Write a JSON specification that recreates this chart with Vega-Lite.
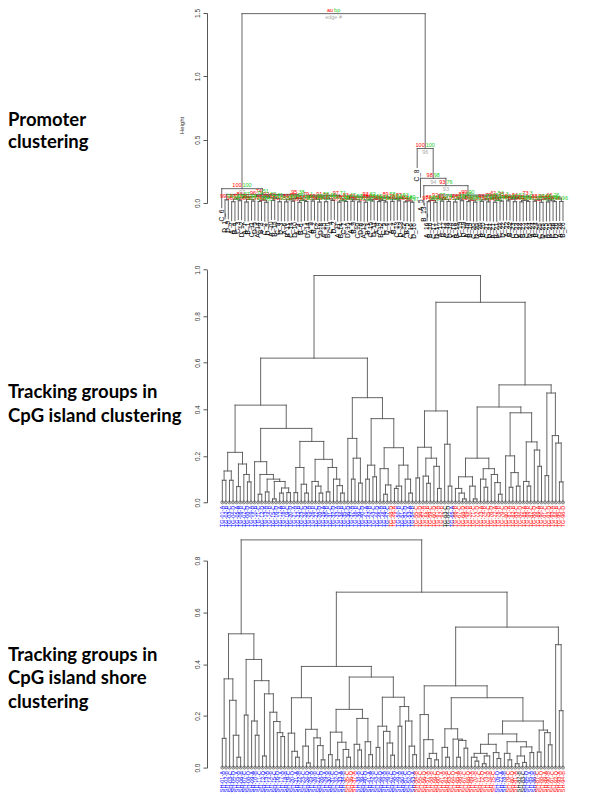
{
"$schema": "https://vega.github.io/schema/vega-lite/v6.json",
"padding": {"left": 8, "top": 8, "right": 5, "bottom": 5},
"bounds": "flush",
"spacing": 57.3,
"config": {
  "view": {"stroke": null},
  "font": "Liberation Sans",
  "axis": {"grid": false, "domainColor": "#444", "domainWidth": 0.9, "tickColor": "#444", "tickWidth": 0.9, "tickSize": 4, "labelColor": "#333", "labelFont": "Liberation Sans", "labelFontSize": 6.5, "labelAngle": 270, "labelAlign": "center", "labelBaseline": "bottom", "labelPadding": 2.5, "labelOverlap": false, "labelFlush": false}
},
"datasets": {
"n1": [
{"xl":4,"xr":5,"h":0.01,"hl":-0.14,"hr":-0.14,"x":4.5,"au":"96","bp":"88"},
{"xl":6,"xr":7,"h":0.018,"hl":-0.132,"hr":-0.132,"x":6.5,"au":"91","bp":"79"},
{"xl":4.5,"xr":6.5,"h":0.03,"hl":0.01,"hr":0.018,"x":5.5,"au":"87","bp":"65"},
{"xl":8,"xr":9,"h":0.008,"hl":-0.142,"hr":-0.142,"x":8.5,"au":"98","bp":"92"},
{"xl":10,"xr":11,"h":0.015,"hl":-0.135,"hr":-0.135,"x":10.5,"au":"85","bp":"71"},
{"xl":8.5,"xr":10.5,"h":0.028,"hl":0.008,"hr":0.015,"x":9.5,"au":"90","bp":"58"},
{"xl":12,"xr":13,"h":0.012,"hl":-0.138,"hr":-0.138,"x":12.5,"au":"97","bp":"89"},
{"xl":14,"xr":15,"h":0.006,"hl":-0.144,"hr":-0.144,"x":14.5,"au":"94","bp":"83"},
{"xl":12.5,"xr":14.5,"h":0.022,"hl":0.012,"hr":0.006,"x":13.5,"au":"88","bp":"62"},
{"xl":16,"xr":17,"h":0.02,"hl":-0.13,"hr":-0.13,"x":16.5,"au":"79","bp":"64"},
{"xl":18,"xr":19,"h":0.01,"hl":-0.14,"hr":-0.14,"x":18.5,"au":"99","bp":"95"},
{"xl":16.5,"xr":18.5,"h":0.035,"hl":0.02,"hr":0.01,"x":17.5,"au":"72","bp":"41"},
{"xl":20,"xr":21,"h":0.009,"hl":-0.141,"hr":-0.141,"x":20.5,"au":"93","bp":"86"},
{"xl":22,"xr":23,"h":0.014,"hl":-0.136,"hr":-0.136,"x":22.5,"au":"89","bp":"77"},
{"xl":20.5,"xr":22.5,"h":0.025,"hl":0.009,"hr":0.014,"x":21.5,"au":"84","bp":"60"},
{"xl":24,"xr":25,"h":0.005,"hl":-0.145,"hr":-0.145,"x":24.5,"au":"99","bp":"97"},
{"xl":26,"xr":27,"h":0.012,"hl":-0.138,"hr":-0.138,"x":26.5,"au":"95","bp":"85"},
{"xl":24.5,"xr":26.5,"h":0.02,"hl":0.005,"hr":0.012,"x":25.5,"au":"91","bp":"70"},
{"xl":28,"xr":29,"h":0.015,"hl":-0.135,"hr":-0.135,"x":28.5,"au":"86","bp":"72"},
{"xl":30,"xr":31,"h":0.008,"hl":-0.142,"hr":-0.142,"x":30.5,"au":"98","bp":"90"},
{"xl":28.5,"xr":30.5,"h":0.03,"hl":0.015,"hr":0.008,"x":29.5,"au":"80","bp":"55"},
{"xl":32,"xr":33,"h":0.01,"hl":-0.14,"hr":-0.14,"x":32.5,"au":"94","bp":"87"},
{"xl":34,"xr":35,"h":0.02,"hl":-0.13,"hr":-0.13,"x":34.5,"au":"83","bp":"66"},
{"xl":32.5,"xr":34.5,"h":0.032,"hl":0.01,"hr":0.02,"x":33.5,"au":"77","bp":"49"},
{"xl":36,"xr":37,"h":0.007,"hl":-0.143,"hr":-0.143,"x":36.5,"au":"97","bp":"93"},
{"xl":38,"xr":39,"h":0.012,"hl":-0.138,"hr":-0.138,"x":38.5,"au":"92","bp":"81"},
{"xl":36.5,"xr":38.5,"h":0.018,"hl":0.007,"hr":0.012,"x":37.5,"au":"89","bp":"68"},
{"xl":40,"xr":41,"h":0.014,"hl":-0.136,"hr":-0.136,"x":40.5,"au":"88","bp":"75"},
{"xl":42,"xr":43,"h":0.009,"hl":-0.141,"hr":-0.141,"x":42.5,"au":"96","bp":"91"},
{"xl":40.5,"xr":42.5,"h":0.026,"hl":0.014,"hr":0.009,"x":41.5,"au":"82","bp":"57"},
{"xl":44,"xr":45,"h":0.006,"hl":-0.144,"hr":-0.144,"x":44.5,"au":"99","bp":"96"},
{"xl":46,"xr":47,"h":0.016,"hl":-0.134,"hr":-0.134,"x":46.5,"au":"87","bp":"73"},
{"xl":44.5,"xr":46.5,"h":0.024,"hl":0.006,"hr":0.016,"x":45.5,"au":"85","bp":"62"},
{"xl":48,"xr":49,"h":0.011,"hl":-0.139,"hr":-0.139,"x":48.5,"au":"93","bp":"84"},
{"xl":50,"xr":51,"h":0.008,"hl":-0.142,"hr":-0.142,"x":50.5,"au":"97","bp":"92"},
{"xl":48.5,"xr":50.5,"h":0.02,"hl":0.011,"hr":0.008,"x":49.5,"au":"90","bp":"71"},
{"xl":52,"xr":53,"h":0.013,"hl":-0.137,"hr":-0.137,"x":52.5,"au":"84","bp":"69"},
{"xl":54,"xr":55,"h":0.017,"hl":-0.133,"hr":-0.133,"x":54.5,"au":"81","bp":"63"},
{"xl":52.5,"xr":54.5,"h":0.03,"hl":0.013,"hr":0.017,"x":53.5,"au":"78","bp":"52"},
{"xl":56,"xr":57,"h":0.009,"hl":-0.141,"hr":-0.141,"x":56.5,"au":"95","bp":"88"},
{"xl":58,"xr":59,"h":0.006,"hl":-0.144,"hr":-0.144,"x":58.5,"au":"99","bp":"97"},
{"xl":56.5,"xr":58.5,"h":0.016,"hl":0.009,"hr":0.006,"x":57.5,"au":"92","bp":"80"},
{"xl":5.5,"xr":9.5,"h":0.042,"hl":0.03,"hr":0.028,"x":7.5,"au":"88","bp":"57"},
{"xl":13.5,"xr":17.5,"h":0.045,"hl":0.022,"hr":0.035,"x":15.5,"au":"92","bp":"62"},
{"xl":21.5,"xr":25.5,"h":0.035,"hl":0.025,"hr":0.02,"x":23.5,"au":"86","bp":"44"},
{"xl":29.5,"xr":33.5,"h":0.04,"hl":0.03,"hr":0.032,"x":31.5,"au":"91","bp":"56"},
{"xl":37.5,"xr":41.5,"h":0.033,"hl":0.018,"hr":0.026,"x":39.5,"au":"83","bp":"47"},
{"xl":45.5,"xr":49.5,"h":0.03,"hl":0.024,"hr":0.02,"x":47.5,"au":"94","bp":"69"},
{"xl":53.5,"xr":57.5,"h":0.036,"hl":0.03,"hr":0.016,"x":55.5,"au":"87","bp":"53"},
{"xl":7.5,"xr":15.5,"h":0.052,"hl":0.042,"hr":0.045,"x":11.5,"au":"96","bp":"74"},
{"xl":23.5,"xr":31.5,"h":0.047,"hl":0.035,"hr":0.04,"x":27.5,"au":"79","bp":"1"},
{"xl":47.5,"xr":55.5,"h":0.04,"hl":0.03,"hr":0.036,"x":51.5,"au":"89","bp":"58"},
{"xl":39.5,"xr":51.5,"h":0.046,"hl":0.033,"hr":0.04,"x":45.5,"au":"93","bp":"62"},
{"xl":27.5,"xr":45.5,"h":0.055,"hl":0.047,"hr":0.046,"x":36.5,"au":"97","bp":"71"},
{"xl":11.5,"xr":36.5,"h":0.062,"hl":0.052,"hr":0.055,"x":24,"au":"95","bp":"38"},
{"xl":2,"xr":3,"h":0.025,"hl":-0.125,"hr":-0.125,"x":2.5,"au":"99","bp":"94"},
{"xl":2.5,"xr":24,"h":0.068,"hl":0.025,"hr":0.062,"x":13.25,"au":"74","bp":"51"},
{"xl":1,"xr":13.25,"h":0.113,"hl":-0.037,"hr":0.068,"x":7.125,"au":"100","bp":"100","e":"97"},
{"xl":63,"xr":64,"h":0.01,"hl":-0.14,"hr":-0.14,"x":63.5,"au":"97","bp":"90"},
{"xl":65,"xr":66,"h":0.006,"hl":-0.144,"hr":-0.144,"x":65.5,"au":"93","bp":"84"},
{"xl":63.5,"xr":65.5,"h":0.02,"hl":0.01,"hr":0.006,"x":64.5,"au":"88","bp":"63"},
{"xl":67,"xr":68,"h":0.015,"hl":-0.135,"hr":-0.135,"x":67.5,"au":"99","bp":"96"},
{"xl":69,"xr":70,"h":0.012,"hl":-0.138,"hr":-0.138,"x":69.5,"au":"86","bp":"71"},
{"xl":67.5,"xr":69.5,"h":0.028,"hl":0.015,"hr":0.012,"x":68.5,"au":"91","bp":"74"},
{"xl":71,"xr":72,"h":0.008,"hl":-0.142,"hr":-0.142,"x":71.5,"au":"95","bp":"87"},
{"xl":73,"xr":74,"h":0.018,"hl":-0.132,"hr":-0.132,"x":73.5,"au":"98","bp":"93"},
{"xl":71.5,"xr":73.5,"h":0.03,"hl":0.008,"hr":0.018,"x":72.5,"au":"84","bp":"58"},
{"xl":75,"xr":76,"h":0.011,"hl":-0.139,"hr":-0.139,"x":75.5,"au":"92","bp":"80"},
{"xl":77,"xr":78,"h":0.007,"hl":-0.143,"hr":-0.143,"x":77.5,"au":"96","bp":"89"},
{"xl":75.5,"xr":77.5,"h":0.022,"hl":0.011,"hr":0.007,"x":76.5,"au":"87","bp":"66"},
{"xl":79,"xr":80,"h":0.013,"hl":-0.137,"hr":-0.137,"x":79.5,"au":"89","bp":"76"},
{"xl":81,"xr":82,"h":0.009,"hl":-0.141,"hr":-0.141,"x":81.5,"au":"99","bp":"98"},
{"xl":79.5,"xr":81.5,"h":0.025,"hl":0.013,"hr":0.009,"x":80.5,"au":"93","bp":"72"},
{"xl":83,"xr":84,"h":0.006,"hl":-0.144,"hr":-0.144,"x":83.5,"au":"94","bp":"85"},
{"xl":85,"xr":86,"h":0.015,"hl":-0.135,"hr":-0.135,"x":85.5,"au":"90","bp":"78"},
{"xl":83.5,"xr":85.5,"h":0.021,"hl":0.006,"hr":0.015,"x":84.5,"au":"81","bp":"54"},
{"xl":87,"xr":88,"h":0.017,"hl":-0.133,"hr":-0.133,"x":87.5,"au":"98","bp":"91"},
{"xl":89,"xr":90,"h":0.01,"hl":-0.14,"hr":-0.14,"x":89.5,"au":"87","bp":"74"},
{"xl":87.5,"xr":89.5,"h":0.03,"hl":0.017,"hr":0.01,"x":88.5,"au":"92","bp":"67"},
{"xl":91,"xr":92,"h":0.009,"hl":-0.141,"hr":-0.141,"x":91.5,"au":"96","bp":"88"},
{"xl":93,"xr":94,"h":0.012,"hl":-0.138,"hr":-0.138,"x":93.5,"au":"93","bp":"81"},
{"xl":91.5,"xr":93.5,"h":0.02,"hl":0.009,"hr":0.012,"x":92.5,"au":"85","bp":"61"},
{"xl":95,"xr":96,"h":0.014,"hl":-0.136,"hr":-0.136,"x":95.5,"au":"99","bp":"95"},
{"xl":97,"xr":98,"h":0.006,"hl":-0.144,"hr":-0.144,"x":97.5,"au":"91","bp":"79"},
{"xl":95.5,"xr":97.5,"h":0.024,"hl":0.014,"hr":0.006,"x":96.5,"au":"88","bp":"65"},
{"xl":99,"xr":100,"h":0.008,"hl":-0.142,"hr":-0.142,"x":99.5,"au":"97","bp":"92"},
{"xl":101,"xr":102,"h":0.011,"hl":-0.139,"hr":-0.139,"x":101.5,"au":"94","bp":"86"},
{"xl":99.5,"xr":101.5,"h":0.018,"hl":0.008,"hr":0.011,"x":100.5,"au":"90","bp":"70"},
{"xl":103,"xr":104,"h":0.012,"hl":-0.138,"hr":-0.138,"x":103.5,"au":"98","bp":"96"},
{"xl":64.5,"xr":68.5,"h":0.038,"hl":0.02,"hr":0.028,"x":66.5,"au":"92","bp":"77"},
{"xl":72.5,"xr":76.5,"h":0.04,"hl":0.03,"hr":0.022,"x":74.5,"au":"87","bp":"60"},
{"xl":80.5,"xr":84.5,"h":0.034,"hl":0.025,"hr":0.021,"x":82.5,"au":"79","bp":"45"},
{"xl":88.5,"xr":92.5,"h":0.036,"hl":0.03,"hr":0.02,"x":90.5,"au":"84","bp":"52"},
{"xl":96.5,"xr":100.5,"h":0.03,"hl":0.024,"hr":0.018,"x":98.5,"au":"90","bp":"68"},
{"xl":98.5,"xr":103.5,"h":0.038,"hl":0.03,"hr":0.012,"x":101,"au":"66","bp":"26"},
{"xl":82.5,"xr":90.5,"h":0.043,"hl":0.034,"hr":0.036,"x":86.5,"au":"45","bp":"3"},
{"xl":86.5,"xr":101,"h":0.048,"hl":0.043,"hr":0.038,"x":93.75,"au":"73","bp":"3"},
{"xl":74.5,"xr":93.75,"h":0.055,"hl":0.04,"hr":0.048,"x":84.125,"au":"61","bp":"54"},
{"xl":66.5,"xr":84.125,"h":0.063,"hl":0.038,"hr":0.055,"x":75.313,"au":"99","bp":"90"},
{"xl":62,"xr":75.313,"h":0.137,"hl":-0.013,"hr":0.063,"x":68.656,"au":"93","bp":"76","e":"93"},
{"xl":61,"xr":68.656,"h":0.195,"hl":0.045,"hr":0.137,"x":64.828,"au":"98","bp":"98","e":"94"},
{"xl":60,"xr":64.828,"h":0.43,"hl":0.28,"hr":0.195,"x":62.414,"au":"100","bp":"100","e":"96"},
{"xl":7.125,"xr":62.414,"h":1.495,"hl":0.113,"hr":0.43,"x":34.77,"au":"au","bp":"bp","e":"edge #"}
],
"l1": [
{"i":1,"lab":"C_6","b":-0.037},{"i":2,"lab":"D_1","b":-0.125},{"i":3,"lab":"D_9","b":-0.125},{"i":4,"lab":"A_2","b":-0.14},{"i":5,"lab":"B_4","b":-0.14},{"i":6,"lab":"C_3","b":-0.132},{"i":7,"lab":"D_12","b":-0.132},{"i":8,"lab":"A_7","b":-0.142},{"i":9,"lab":"B_1","b":-0.142},{"i":10,"lab":"C_11","b":-0.135},
{"i":11,"lab":"D_5","b":-0.135},{"i":12,"lab":"A_14","b":-0.138},{"i":13,"lab":"B_8","b":-0.138},{"i":14,"lab":"C_2","b":-0.144},{"i":15,"lab":"D_7","b":-0.144},{"i":16,"lab":"A_10","b":-0.13},{"i":17,"lab":"B_15","b":-0.13},{"i":18,"lab":"C_9","b":-0.14},{"i":19,"lab":"D_3","b":-0.14},{"i":20,"lab":"A_6","b":-0.141},
{"i":21,"lab":"B_11","b":-0.141},{"i":22,"lab":"C_14","b":-0.136},{"i":23,"lab":"D_10","b":-0.136},{"i":24,"lab":"A_3","b":-0.145},{"i":25,"lab":"B_6","b":-0.145},{"i":26,"lab":"C_1","b":-0.138},{"i":27,"lab":"D_14","b":-0.138},{"i":28,"lab":"A_9","b":-0.135},{"i":29,"lab":"B_2","b":-0.135},{"i":30,"lab":"C_12","b":-0.142},
{"i":31,"lab":"D_8","b":-0.142},{"i":32,"lab":"A_15","b":-0.14},{"i":33,"lab":"B_10","b":-0.14},{"i":34,"lab":"C_4","b":-0.13},{"i":35,"lab":"D_2","b":-0.13},{"i":36,"lab":"A_11","b":-0.143},{"i":37,"lab":"B_14","b":-0.143},{"i":38,"lab":"C_7","b":-0.138},{"i":39,"lab":"D_15","b":-0.138},{"i":40,"lab":"A_4","b":-0.136},
{"i":41,"lab":"B_9","b":-0.136},{"i":42,"lab":"C_10","b":-0.141},{"i":43,"lab":"D_6","b":-0.141},{"i":44,"lab":"A_13","b":-0.144},{"i":45,"lab":"B_3","b":-0.144},{"i":46,"lab":"C_15","b":-0.134},{"i":47,"lab":"D_11","b":-0.134},{"i":48,"lab":"A_8","b":-0.139},{"i":49,"lab":"B_12","b":-0.139},{"i":50,"lab":"C_5","b":-0.142},
{"i":51,"lab":"D_4","b":-0.142},{"i":52,"lab":"A_1","b":-0.137},{"i":53,"lab":"B_7","b":-0.137},{"i":54,"lab":"C_13","b":-0.133},{"i":55,"lab":"D_13","b":-0.133},{"i":56,"lab":"A_12","b":-0.141},{"i":57,"lab":"B_5","b":-0.141},{"i":58,"lab":"C_16","b":-0.144},{"i":59,"lab":"D_16","b":-0.144},{"i":60,"lab":"C_8","b":0.28},
{"i":61,"lab":"A_5","b":0.045},{"i":62,"lab":"B_13","b":-0.013},{"i":63,"lab":"A_16","b":-0.14},{"i":64,"lab":"B_16","b":-0.14},{"i":65,"lab":"C_17","b":-0.144},{"i":66,"lab":"D_17","b":-0.144},{"i":67,"lab":"A_17","b":-0.135},{"i":68,"lab":"B_17","b":-0.135},{"i":69,"lab":"C_18","b":-0.138},{"i":70,"lab":"D_18","b":-0.138},
{"i":71,"lab":"A_18","b":-0.142},{"i":72,"lab":"B_18","b":-0.142},{"i":73,"lab":"C_19","b":-0.132},{"i":74,"lab":"D_19","b":-0.132},{"i":75,"lab":"A_19","b":-0.139},{"i":76,"lab":"B_19","b":-0.139},{"i":77,"lab":"C_20","b":-0.143},{"i":78,"lab":"D_20","b":-0.143},{"i":79,"lab":"A_20","b":-0.137},{"i":80,"lab":"B_20","b":-0.137},
{"i":81,"lab":"C_21","b":-0.141},{"i":82,"lab":"D_21","b":-0.141},{"i":83,"lab":"A_21","b":-0.144},{"i":84,"lab":"B_21","b":-0.144},{"i":85,"lab":"C_22","b":-0.135},{"i":86,"lab":"D_22","b":-0.135},{"i":87,"lab":"A_22","b":-0.133},{"i":88,"lab":"B_22","b":-0.133},{"i":89,"lab":"C_23","b":-0.14},{"i":90,"lab":"D_23","b":-0.14},
{"i":91,"lab":"A_23","b":-0.141},{"i":92,"lab":"B_23","b":-0.141},{"i":93,"lab":"C_24","b":-0.138},{"i":94,"lab":"D_24","b":-0.138},{"i":95,"lab":"A_24","b":-0.136},{"i":96,"lab":"B_24","b":-0.136},{"i":97,"lab":"C_25","b":-0.144},{"i":98,"lab":"D_25","b":-0.144},{"i":99,"lab":"A_25","b":-0.142},{"i":100,"lab":"B_25","b":-0.142},
{"i":101,"lab":"C_26","b":-0.139},{"i":102,"lab":"D_26","b":-0.139},{"i":103,"lab":"A_26","b":-0.138},{"i":104,"lab":"B_26","b":-0.138}
],
"n2": [
{"xl":1,"xr":2,"h":0.095,"hl":0,"hr":0},{"xl":3,"xr":4,"h":0.095,"hl":0,"hr":0},{"xl":1.5,"xr":3.5,"h":0.135,"hl":0.095,"hr":0.095},{"xl":5,"xr":6,"h":0.068,"hl":0,"hr":0},{"xl":8,"xr":9,"h":0.088,"hl":0,"hr":0},{"xl":7,"xr":8.5,"h":0.12,"hl":0,"hr":0.088},{"xl":5.5,"xr":7.75,"h":0.165,"hl":0.068,"hr":0.12},{"xl":2.5,"xr":6.625,"h":0.215,"hl":0.135,"hr":0.165},
{"xl":11,"xr":12,"h":0.035,"hl":0,"hr":0},{"xl":13,"xr":14,"h":0.045,"hl":0,"hr":0},{"xl":15,"xr":16,"h":0.015,"hl":0,"hr":0},{"xl":17,"xr":18,"h":0.04,"hl":0,"hr":0},{"xl":19,"xr":20,"h":0.042,"hl":0,"hr":0},{"xl":17.5,"xr":19.5,"h":0.062,"hl":0.04,"hr":0.042},{"xl":15.5,"xr":18.5,"h":0.09,"hl":0.015,"hr":0.062},{"xl":13.5,"xr":17,"h":0.1,"hl":0.045,"hr":0.09},{"xl":11.5,"xr":15.25,"h":0.12,"hl":0.035,"hr":0.1},{"xl":10,"xr":13.375,"h":0.175,"hl":0,"hr":0.12},
{"xl":21,"xr":22,"h":0.042,"hl":0,"hr":0},{"xl":24,"xr":25,"h":0.04,"hl":0,"hr":0},{"xl":23,"xr":24.5,"h":0.078,"hl":0,"hr":0.04},{"xl":21.5,"xr":23.75,"h":0.15,"hl":0.042,"hr":0.078},{"xl":28,"xr":29,"h":0.04,"hl":0,"hr":0},{"xl":27,"xr":28.5,"h":0.07,"hl":0,"hr":0.04},{"xl":26,"xr":27.75,"h":0.09,"hl":0,"hr":0.07},{"xl":30,"xr":31,"h":0.045,"hl":0,"hr":0},{"xl":34,"xr":35,"h":0.04,"hl":0,"hr":0},{"xl":33,"xr":34.5,"h":0.072,"hl":0,"hr":0.04},{"xl":32,"xr":33.75,"h":0.1,"hl":0,"hr":0.072},{"xl":30.5,"xr":32.875,"h":0.15,"hl":0.045,"hr":0.1},{"xl":26.875,"xr":31.688,"h":0.185,"hl":0.09,"hr":0.15},{"xl":22.625,"xr":29.281,"h":0.262,"hl":0.15,"hr":0.185},{"xl":11.688,"xr":25.953,"h":0.318,"hl":0.175,"hr":0.262},{"xl":4.563,"xr":18.82,"h":0.418,"hl":0.215,"hr":0.318},
{"xl":37,"xr":38,"h":0.1,"hl":0,"hr":0},{"xl":39,"xr":40,"h":0.083,"hl":0,"hr":0},{"xl":37.5,"xr":39.5,"h":0.19,"hl":0.1,"hr":0.083},{"xl":36,"xr":38.5,"h":0.275,"hl":0,"hr":0.19},{"xl":41,"xr":42,"h":0.1,"hl":0,"hr":0},{"xl":43,"xr":44,"h":0.11,"hl":0,"hr":0},{"xl":41.5,"xr":43.5,"h":0.16,"hl":0.1,"hr":0.11},{"xl":46,"xr":47,"h":0.035,"hl":0,"hr":0},{"xl":46.5,"xr":48,"h":0.075,"hl":0.035,"hr":0},{"xl":45,"xr":47.25,"h":0.145,"hl":0,"hr":0.075},{"xl":49,"xr":50,"h":0.06,"hl":0,"hr":0},{"xl":49.5,"xr":51,"h":0.07,"hl":0.06,"hr":0},{"xl":53,"xr":54,"h":0.04,"hl":0,"hr":0},{"xl":52,"xr":53.5,"h":0.1,"hl":0,"hr":0.04},{"xl":50.25,"xr":52.75,"h":0.16,"hl":0.07,"hr":0.1},{"xl":46.125,"xr":51.5,"h":0.235,"hl":0.145,"hr":0.16},{"xl":42.5,"xr":48.813,"h":0.36,"hl":0.16,"hr":0.235},{"xl":37.25,"xr":45.656,"h":0.45,"hl":0.275,"hr":0.36},{"xl":11.691,"xr":41.453,"h":0.62,"hl":0.418,"hr":0.45},
{"xl":55,"xr":56,"h":0.105,"hl":0,"hr":0},{"xl":58,"xr":59,"h":0.082,"hl":0,"hr":0},{"xl":57,"xr":58.5,"h":0.113,"hl":0,"hr":0.082},{"xl":61,"xr":62,"h":0.06,"hl":0,"hr":0},{"xl":60,"xr":61.5,"h":0.155,"hl":0,"hr":0.06},{"xl":57.75,"xr":60.75,"h":0.19,"hl":0.113,"hr":0.155},{"xl":55.5,"xr":59.25,"h":0.237,"hl":0.105,"hr":0.19},{"xl":64,"xr":65,"h":0.07,"hl":0,"hr":0},{"xl":63,"xr":64.5,"h":0.25,"hl":0,"hr":0.07},{"xl":57.375,"xr":63.75,"h":0.393,"hl":0.237,"hr":0.25},
{"xl":68,"xr":69,"h":0.015,"hl":0,"hr":0},{"xl":67,"xr":68.5,"h":0.04,"hl":0,"hr":0.015},{"xl":66,"xr":67.75,"h":0.06,"hl":0,"hr":0.04},{"xl":71,"xr":72,"h":0.015,"hl":0,"hr":0},{"xl":70,"xr":71.5,"h":0.07,"hl":0,"hr":0.015},{"xl":66.875,"xr":70.75,"h":0.11,"hl":0.06,"hr":0.07},{"xl":74,"xr":75,"h":0.065,"hl":0,"hr":0},{"xl":73,"xr":74.5,"h":0.1,"hl":0,"hr":0.065},{"xl":78,"xr":79,"h":0.035,"hl":0,"hr":0},{"xl":77,"xr":78.5,"h":0.085,"hl":0,"hr":0.035},{"xl":76,"xr":77.75,"h":0.12,"hl":0,"hr":0.085},{"xl":73.75,"xr":76.875,"h":0.145,"hl":0.1,"hr":0.12},{"xl":68.813,"xr":75.313,"h":0.19,"hl":0.11,"hr":0.145},
{"xl":81,"xr":82,"h":0.065,"hl":0,"hr":0},{"xl":83,"xr":84,"h":0.07,"hl":0,"hr":0},{"xl":81.5,"xr":83.5,"h":0.128,"hl":0.065,"hr":0.07},{"xl":80,"xr":82.5,"h":0.2,"hl":0,"hr":0.128},{"xl":86,"xr":87,"h":0.07,"hl":0,"hr":0},{"xl":85,"xr":86.5,"h":0.09,"hl":0,"hr":0.07},{"xl":89,"xr":90,"h":0.155,"hl":0,"hr":0},{"xl":88,"xr":89.5,"h":0.225,"hl":0,"hr":0.155},{"xl":85.75,"xr":88.75,"h":0.26,"hl":0.09,"hr":0.225},{"xl":81.25,"xr":87.25,"h":0.385,"hl":0.2,"hr":0.26},{"xl":72.063,"xr":84.25,"h":0.41,"hl":0.19,"hr":0.385},
{"xl":91,"xr":92,"h":0.115,"hl":0,"hr":0},{"xl":95,"xr":96,"h":0.088,"hl":0,"hr":0},{"xl":94,"xr":95.5,"h":0.255,"hl":0,"hr":0.088},{"xl":93,"xr":94.75,"h":0.287,"hl":0,"hr":0.255},{"xl":91.5,"xr":93.875,"h":0.47,"hl":0.115,"hr":0.287},{"xl":78.156,"xr":92.688,"h":0.505,"hl":0.41,"hr":0.47},{"xl":60.563,"xr":85.422,"h":0.86,"hl":0.393,"hr":0.505},{"xl":26.572,"xr":72.992,"h":0.975,"hl":0.62,"hr":0.86}
],
"l2": [
{"i":1,"lab":"TG-01-A","g":"b"},{"i":2,"lab":"TG-02-B","g":"b"},{"i":3,"lab":"TG-03-C","g":"b"},{"i":4,"lab":"TG-04-D","g":"b"},{"i":5,"lab":"TG-05-A","g":"b"},{"i":6,"lab":"TG-06-B","g":"b"},{"i":7,"lab":"TG-07-C","g":"b"},{"i":8,"lab":"TG-08-D","g":"b"},{"i":9,"lab":"TG-09-A","g":"b"},{"i":10,"lab":"TG-10-B","g":"b"},
{"i":11,"lab":"TG-11-C","g":"b"},{"i":12,"lab":"TG-12-D","g":"b"},{"i":13,"lab":"TG-13-A","g":"b"},{"i":14,"lab":"TG-14-B","g":"b"},{"i":15,"lab":"TG-15-C","g":"b"},{"i":16,"lab":"TG-16-D","g":"b"},{"i":17,"lab":"TG-17-A","g":"b"},{"i":18,"lab":"TG-18-B","g":"b"},{"i":19,"lab":"TG-19-C","g":"b"},{"i":20,"lab":"TG-20-D","g":"b"},
{"i":21,"lab":"TG-21-A","g":"b"},{"i":22,"lab":"TG-22-B","g":"b"},{"i":23,"lab":"TG-23-C","g":"b"},{"i":24,"lab":"TG-24-D","g":"b"},{"i":25,"lab":"TG-25-A","g":"b"},{"i":26,"lab":"TG-26-B","g":"b"},{"i":27,"lab":"TG-27-C","g":"b"},{"i":28,"lab":"TG-28-D","g":"b"},{"i":29,"lab":"TG-29-A","g":"b"},{"i":30,"lab":"TG-30-B","g":"b"},
{"i":31,"lab":"TG-31-C","g":"b"},{"i":32,"lab":"TG-32-D","g":"b"},{"i":33,"lab":"TG-33-A","g":"b"},{"i":34,"lab":"TG-34-B","g":"b"},{"i":35,"lab":"TG-35-C","g":"b"},{"i":36,"lab":"TG-36-D","g":"b"},{"i":37,"lab":"TG-37-A","g":"b"},{"i":38,"lab":"TG-38-B","g":"b"},{"i":39,"lab":"TG-39-C","g":"b"},{"i":40,"lab":"TG-40-D","g":"b"},
{"i":41,"lab":"TG-41-A","g":"b"},{"i":42,"lab":"TG-42-B","g":"b"},{"i":43,"lab":"TG-43-C","g":"b"},{"i":44,"lab":"TG-44-D","g":"b"},{"i":45,"lab":"TG-45-A","g":"b"},{"i":46,"lab":"TG-46-B","g":"b"},{"i":47,"lab":"TG-47-C","g":"b"},{"i":48,"lab":"TG-48-D","g":"r"},{"i":49,"lab":"TG-49-A","g":"r"},{"i":50,"lab":"TG-50-B","g":"b"},
{"i":51,"lab":"TG-51-C","g":"b"},{"i":52,"lab":"TG-52-D","g":"b"},{"i":53,"lab":"TG-53-A","g":"b"},{"i":54,"lab":"TG-54-B","g":"b"},{"i":55,"lab":"TG-55-C","g":"r"},{"i":56,"lab":"TG-56-D","g":"r"},{"i":57,"lab":"TG-57-A","g":"r"},{"i":58,"lab":"TG-58-B","g":"r"},{"i":59,"lab":"TG-59-C","g":"r"},{"i":60,"lab":"TG-60-D","g":"r"},
{"i":61,"lab":"TG-61-A","g":"r"},{"i":62,"lab":"TG-62-B","g":"r"},{"i":63,"lab":"TG-63-C","g":"k"},{"i":64,"lab":"TG-64-D","g":"k"},{"i":65,"lab":"TG-65-A","g":"b"},{"i":66,"lab":"TG-66-B","g":"r"},{"i":67,"lab":"TG-67-C","g":"r"},{"i":68,"lab":"TG-68-D","g":"r"},{"i":69,"lab":"TG-69-A","g":"r"},{"i":70,"lab":"TG-70-B","g":"r"},
{"i":71,"lab":"TG-71-C","g":"r"},{"i":72,"lab":"TG-72-D","g":"r"},{"i":73,"lab":"TG-73-A","g":"r"},{"i":74,"lab":"TG-74-B","g":"r"},{"i":75,"lab":"TG-75-C","g":"r"},{"i":76,"lab":"TG-76-D","g":"r"},{"i":77,"lab":"TG-77-A","g":"r"},{"i":78,"lab":"TG-78-B","g":"r"},{"i":79,"lab":"TG-79-C","g":"r"},{"i":80,"lab":"TG-80-D","g":"r"},
{"i":81,"lab":"TG-81-A","g":"r"},{"i":82,"lab":"TG-82-B","g":"r"},{"i":83,"lab":"TG-83-C","g":"r"},{"i":84,"lab":"TG-84-D","g":"r"},{"i":85,"lab":"TG-85-A","g":"r"},{"i":86,"lab":"TG-86-B","g":"r"},{"i":87,"lab":"TG-87-C","g":"r"},{"i":88,"lab":"TG-88-D","g":"r"},{"i":89,"lab":"TG-89-A","g":"r"},{"i":90,"lab":"TG-90-B","g":"r"},
{"i":91,"lab":"TG-91-C","g":"r"},{"i":92,"lab":"TG-92-D","g":"r"},{"i":93,"lab":"TG-93-A","g":"r"},{"i":94,"lab":"TG-94-B","g":"r"},{"i":95,"lab":"TG-95-C","g":"r"},{"i":96,"lab":"TG-96-D","g":"r"}
],
"n3": [
{"xl":1,"xr":2,"h":0.113,"hl":0,"hr":0},{"xl":5,"xr":6,"h":0.04,"hl":0,"hr":0},{"xl":4,"xr":5.5,"h":0.125,"hl":0,"hr":0.04},{"xl":3,"xr":4.75,"h":0.26,"hl":0,"hr":0.125},{"xl":1.5,"xr":3.875,"h":0.343,"hl":0.113,"hr":0.26},{"xl":7,"xr":8,"h":0.203,"hl":0,"hr":0},{"xl":10,"xr":11,"h":0.125,"hl":0,"hr":0},{"xl":9,"xr":10.5,"h":0.18,"hl":0,"hr":0.125},{"xl":12,"xr":13,"h":0.045,"hl":0,"hr":0},{"xl":17,"xr":18,"h":0.12,"hl":0,"hr":0},{"xl":16,"xr":17.5,"h":0.135,"hl":0,"hr":0.12},{"xl":15,"xr":16.75,"h":0.178,"hl":0,"hr":0.135},{"xl":14,"xr":15.875,"h":0.214,"hl":0,"hr":0.178},{"xl":12.5,"xr":14.938,"h":0.285,"hl":0.045,"hr":0.214},{"xl":9.75,"xr":13.719,"h":0.336,"hl":0.18,"hr":0.285},{"xl":7.5,"xr":11.734,"h":0.418,"hl":0.203,"hr":0.336},{"xl":2.688,"xr":9.617,"h":0.517,"hl":0.343,"hr":0.418},
{"xl":21,"xr":22,"h":0.04,"hl":0,"hr":0},{"xl":20,"xr":21.5,"h":0.063,"hl":0,"hr":0.04},{"xl":19,"xr":20.75,"h":0.133,"hl":0,"hr":0.063},{"xl":24,"xr":25,"h":0.018,"hl":0,"hr":0},{"xl":23,"xr":24.5,"h":0.083,"hl":0,"hr":0.018},{"xl":28,"xr":29,"h":0.03,"hl":0,"hr":0},{"xl":27,"xr":28.5,"h":0.085,"hl":0,"hr":0.03},{"xl":26,"xr":27.75,"h":0.115,"hl":0,"hr":0.085},{"xl":23.75,"xr":26.875,"h":0.148,"hl":0.083,"hr":0.115},{"xl":19.875,"xr":25.313,"h":0.27,"hl":0.133,"hr":0.148},
{"xl":30,"xr":31,"h":0.05,"hl":0,"hr":0},{"xl":32,"xr":33,"h":0.03,"hl":0,"hr":0},{"xl":35,"xr":36,"h":0.04,"hl":0,"hr":0},{"xl":34,"xr":35.5,"h":0.07,"hl":0,"hr":0.04},{"xl":32.5,"xr":34.75,"h":0.098,"hl":0.03,"hr":0.07},{"xl":30.5,"xr":33.625,"h":0.137,"hl":0.05,"hr":0.098},{"xl":38,"xr":39,"h":0.068,"hl":0,"hr":0},{"xl":37,"xr":38.5,"h":0.09,"hl":0,"hr":0.068},{"xl":41,"xr":42,"h":0.05,"hl":0,"hr":0},{"xl":40,"xr":41.5,"h":0.1,"hl":0,"hr":0.05},{"xl":37.75,"xr":40.75,"h":0.19,"hl":0.09,"hr":0.1},{"xl":32.063,"xr":39.25,"h":0.225,"hl":0.137,"hr":0.19},
{"xl":43,"xr":44,"h":0.078,"hl":0,"hr":0},{"xl":47,"xr":48,"h":0.048,"hl":0,"hr":0},{"xl":46,"xr":47.5,"h":0.095,"hl":0,"hr":0.048},{"xl":45,"xr":46.75,"h":0.14,"hl":0,"hr":0.095},{"xl":43.5,"xr":45.875,"h":0.16,"hl":0.078,"hr":0.14},{"xl":49,"xr":50,"h":0.16,"hl":0,"hr":0},{"xl":53,"xr":54,"h":0.05,"hl":0,"hr":0},{"xl":52,"xr":53.5,"h":0.083,"hl":0,"hr":0.05},{"xl":51,"xr":52.75,"h":0.18,"hl":0,"hr":0.083},{"xl":49.5,"xr":51.875,"h":0.236,"hl":0.16,"hr":0.18},{"xl":44.688,"xr":50.688,"h":0.272,"hl":0.16,"hr":0.236},{"xl":35.656,"xr":47.688,"h":0.35,"hl":0.225,"hr":0.272},{"xl":22.594,"xr":41.672,"h":0.391,"hl":0.27,"hr":0.35},
{"xl":57,"xr":58,"h":0.035,"hl":0,"hr":0},{"xl":59,"xr":60,"h":0.03,"hl":0,"hr":0},{"xl":57.5,"xr":59.5,"h":0.055,"hl":0.035,"hr":0.03},{"xl":56,"xr":58.5,"h":0.108,"hl":0,"hr":0.055},{"xl":55,"xr":57.25,"h":0.205,"hl":0,"hr":0.108},{"xl":62,"xr":63,"h":0.04,"hl":0,"hr":0},{"xl":61,"xr":62.5,"h":0.078,"hl":0,"hr":0.04},{"xl":65,"xr":66,"h":0.04,"hl":0,"hr":0},{"xl":67,"xr":68,"h":0.075,"hl":0,"hr":0},{"xl":65.5,"xr":67.5,"h":0.105,"hl":0.04,"hr":0.075},{"xl":64,"xr":66.5,"h":0.11,"hl":0,"hr":0.105},{"xl":61.75,"xr":65.25,"h":0.15,"hl":0.078,"hr":0.11},
{"xl":70,"xr":71,"h":0.025,"hl":0,"hr":0},{"xl":69,"xr":70.5,"h":0.04,"hl":0,"hr":0.025},{"xl":72,"xr":73,"h":0.015,"hl":0,"hr":0},{"xl":72.5,"xr":74,"h":0.045,"hl":0.015,"hr":0},{"xl":69.75,"xr":73.25,"h":0.055,"hl":0.04,"hr":0.045},{"xl":76,"xr":77,"h":0.035,"hl":0,"hr":0},{"xl":75,"xr":76.5,"h":0.058,"hl":0,"hr":0.035},{"xl":71.5,"xr":75.75,"h":0.09,"hl":0.055,"hr":0.058},
{"xl":79,"xr":80,"h":0.03,"hl":0,"hr":0},{"xl":78,"xr":79.5,"h":0.055,"hl":0,"hr":0.03},{"xl":81,"xr":82,"h":0.015,"hl":0,"hr":0},{"xl":83,"xr":84,"h":0.02,"hl":0,"hr":0},{"xl":81.5,"xr":83.5,"h":0.045,"hl":0.015,"hr":0.02},{"xl":85,"xr":86,"h":0.058,"hl":0,"hr":0},{"xl":82.5,"xr":85.5,"h":0.08,"hl":0.045,"hr":0.058},{"xl":78.75,"xr":84,"h":0.1,"hl":0.055,"hr":0.08},{"xl":73.625,"xr":81.375,"h":0.13,"hl":0.09,"hr":0.1},
{"xl":87,"xr":88,"h":0.06,"hl":0,"hr":0},{"xl":90,"xr":91,"h":0.088,"hl":0,"hr":0},{"xl":89,"xr":90.5,"h":0.135,"hl":0,"hr":0.088},{"xl":87.5,"xr":89.75,"h":0.145,"hl":0.06,"hr":0.135},{"xl":77.5,"xr":88.625,"h":0.18,"hl":0.13,"hr":0.145},{"xl":63.5,"xr":83.063,"h":0.27,"hl":0.15,"hr":0.18},{"xl":56.125,"xr":73.281,"h":0.316,"hl":0.205,"hr":0.27},
{"xl":93,"xr":94,"h":0.22,"hl":0,"hr":0},{"xl":92,"xr":93.5,"h":0.475,"hl":0,"hr":0.22},{"xl":64.703,"xr":92.75,"h":0.543,"hl":0.316,"hr":0.475},{"xl":32.133,"xr":78.727,"h":0.678,"hl":0.391,"hr":0.543},{"xl":6.152,"xr":55.43,"h":0.88,"hl":0.517,"hr":0.678}
],
"l3": [
{"i":1,"lab":"SH-01-A","g":"b"},{"i":2,"lab":"SH-02-B","g":"b"},{"i":3,"lab":"SH-03-C","g":"b"},{"i":4,"lab":"SH-04-D","g":"b"},{"i":5,"lab":"SH-05-A","g":"b"},{"i":6,"lab":"SH-06-B","g":"b"},{"i":7,"lab":"SH-07-C","g":"b"},{"i":8,"lab":"SH-08-D","g":"b"},{"i":9,"lab":"SH-09-A","g":"b"},{"i":10,"lab":"SH-10-B","g":"b"},
{"i":11,"lab":"SH-11-C","g":"b"},{"i":12,"lab":"SH-12-D","g":"b"},{"i":13,"lab":"SH-13-A","g":"b"},{"i":14,"lab":"SH-14-B","g":"b"},{"i":15,"lab":"SH-15-C","g":"b"},{"i":16,"lab":"SH-16-D","g":"b"},{"i":17,"lab":"SH-17-A","g":"b"},{"i":18,"lab":"SH-18-B","g":"b"},{"i":19,"lab":"SH-19-C","g":"b"},{"i":20,"lab":"SH-20-D","g":"b"},
{"i":21,"lab":"SH-21-A","g":"b"},{"i":22,"lab":"SH-22-B","g":"b"},{"i":23,"lab":"SH-23-C","g":"b"},{"i":24,"lab":"SH-24-D","g":"b"},{"i":25,"lab":"SH-25-A","g":"b"},{"i":26,"lab":"SH-26-B","g":"b"},{"i":27,"lab":"SH-27-C","g":"b"},{"i":28,"lab":"SH-28-D","g":"b"},{"i":29,"lab":"SH-29-A","g":"b"},{"i":30,"lab":"SH-30-B","g":"b"},
{"i":31,"lab":"SH-31-C","g":"b"},{"i":32,"lab":"SH-32-D","g":"b"},{"i":33,"lab":"SH-33-A","g":"b"},{"i":34,"lab":"SH-34-B","g":"b"},{"i":35,"lab":"SH-35-C","g":"r"},{"i":36,"lab":"SH-36-D","g":"r"},{"i":37,"lab":"SH-37-A","g":"r"},{"i":38,"lab":"SH-38-B","g":"b"},{"i":39,"lab":"SH-39-C","g":"b"},{"i":40,"lab":"SH-40-D","g":"b"},
{"i":41,"lab":"SH-41-A","g":"b"},{"i":42,"lab":"SH-42-B","g":"b"},{"i":43,"lab":"SH-43-C","g":"b"},{"i":44,"lab":"SH-44-D","g":"b"},{"i":45,"lab":"SH-45-A","g":"b"},{"i":46,"lab":"SH-46-B","g":"b"},{"i":47,"lab":"SH-47-C","g":"b"},{"i":48,"lab":"SH-48-D","g":"b"},{"i":49,"lab":"SH-49-A","g":"b"},{"i":50,"lab":"SH-50-B","g":"b"},
{"i":51,"lab":"SH-51-C","g":"b"},{"i":52,"lab":"SH-52-D","g":"b"},{"i":53,"lab":"SH-53-A","g":"b"},{"i":54,"lab":"SH-54-B","g":"r"},{"i":55,"lab":"SH-55-C","g":"r"},{"i":56,"lab":"SH-56-D","g":"r"},{"i":57,"lab":"SH-57-A","g":"r"},{"i":58,"lab":"SH-58-B","g":"r"},{"i":59,"lab":"SH-59-C","g":"r"},{"i":60,"lab":"SH-60-D","g":"r"},
{"i":61,"lab":"SH-61-A","g":"r"},{"i":62,"lab":"SH-62-B","g":"r"},{"i":63,"lab":"SH-63-C","g":"r"},{"i":64,"lab":"SH-64-D","g":"r"},{"i":65,"lab":"SH-65-A","g":"r"},{"i":66,"lab":"SH-66-B","g":"r"},{"i":67,"lab":"SH-67-C","g":"r"},{"i":68,"lab":"SH-68-D","g":"r"},{"i":69,"lab":"SH-69-A","g":"r"},{"i":70,"lab":"SH-70-B","g":"r"},
{"i":71,"lab":"SH-71-C","g":"r"},{"i":72,"lab":"SH-72-D","g":"r"},{"i":73,"lab":"SH-73-A","g":"r"},{"i":74,"lab":"SH-74-B","g":"r"},{"i":75,"lab":"SH-75-C","g":"r"},{"i":76,"lab":"SH-76-D","g":"b"},{"i":77,"lab":"SH-77-A","g":"b"},{"i":78,"lab":"SH-78-B","g":"b"},{"i":79,"lab":"SH-79-C","g":"r"},{"i":80,"lab":"SH-80-D","g":"r"},
{"i":81,"lab":"SH-81-A","g":"r"},{"i":82,"lab":"SH-82-B","g":"k"},{"i":83,"lab":"SH-83-C","g":"k"},{"i":84,"lab":"SH-84-D","g":"b"},{"i":85,"lab":"SH-85-A","g":"b"},{"i":86,"lab":"SH-86-B","g":"b"},{"i":87,"lab":"SH-87-C","g":"r"},{"i":88,"lab":"SH-88-D","g":"r"},{"i":89,"lab":"SH-89-A","g":"r"},{"i":90,"lab":"SH-90-B","g":"r"},
{"i":91,"lab":"SH-91-C","g":"r"},{"i":92,"lab":"SH-92-D","g":"r"},{"i":93,"lab":"SH-93-A","g":"r"},{"i":94,"lab":"SH-94-B","g":"r"}
]
},
"vconcat": [
{
  "width": 371, "height": 190,
  "title": {"text": ["Promoter", "clustering"], "orient": "top", "anchor": "start", "frame": "group", "align": "left", "baseline": "top", "offset": 0, "dx": -199, "dy": 143, "font": "Lato", "fontSize": 18.5, "fontWeight": "bold", "lineHeight": 22, "color": "#000"},
  "layer": [
    {"data": {"name": "n1"}, "mark": {"type": "rule", "color": "#555", "strokeWidth": 0.9, "strokeCap": "square"},
     "encoding": {
       "x": {"field": "xl", "type": "quantitative", "scale": {"domain": [-3.44, 108.53], "nice": false, "zero": false}, "axis": null},
       "x2": {"field": "xr"},
       "y": {"field": "h", "type": "quantitative", "scale": {"domain": [0, 1.5], "nice": false, "zero": false},
             "axis": {"values": [0, 0.5, 1, 1.5], "format": ".1f", "title": "Height", "titleX": -26, "titleY": 112, "titleAngle": 270, "titleFontSize": 6, "titleFontWeight": "normal", "titleColor": "#333", "titleFont": "Liberation Sans", "titleAlign": "center", "titleBaseline": "middle"}}}},
    {"data": {"name": "n1"}, "mark": {"type": "rule", "color": "#555", "strokeWidth": 0.9, "strokeCap": "square"},
     "encoding": {"x": {"field": "xl", "type": "quantitative"}, "y": {"field": "hl", "type": "quantitative"}, "y2": {"field": "h"}}},
    {"data": {"name": "n1"}, "mark": {"type": "rule", "color": "#555", "strokeWidth": 0.9, "strokeCap": "square"},
     "encoding": {"x": {"field": "xr", "type": "quantitative"}, "y": {"field": "hr", "type": "quantitative"}, "y2": {"field": "h"}}},
    {"data": {"name": "n1"}, "mark": {"type": "text", "align": "right", "baseline": "bottom", "dx": -0.5, "dy": -0.5, "fontSize": 5.5, "color": "#FF0000"},
     "encoding": {"x": {"field": "x", "type": "quantitative"}, "y": {"field": "h", "type": "quantitative"}, "text": {"field": "au"}}},
    {"data": {"name": "n1"}, "mark": {"type": "text", "align": "left", "baseline": "bottom", "dx": 0.5, "dy": -0.5, "fontSize": 5.5, "color": "#22CC22"},
     "encoding": {"x": {"field": "x", "type": "quantitative"}, "y": {"field": "h", "type": "quantitative"}, "text": {"field": "bp"}}},
    {"data": {"name": "n1"}, "transform": [{"filter": "isValid(datum.e)"}], "mark": {"type": "text", "align": "center", "baseline": "top", "dy": 1.5, "fontSize": 5.5, "color": "#AAAAAA"},
     "encoding": {"x": {"field": "x", "type": "quantitative"}, "y": {"field": "h", "type": "quantitative"}, "text": {"field": "e"}}},
    {"data": {"name": "l1"}, "mark": {"type": "text", "angle": 270, "align": "right", "baseline": "middle", "dx": -2, "fontSize": 6.5, "color": "#000"},
     "encoding": {"x": {"field": "i", "type": "quantitative"}, "y": {"field": "b", "type": "quantitative"}, "text": {"field": "lab"}}}
  ]
},
{
  "width": 371, "height": 242.1,
  "title": {"text": ["Tracking groups in", "CpG island clustering"], "orient": "top", "anchor": "start", "frame": "group", "align": "left", "baseline": "top", "offset": 0, "dx": -199, "dy": 165, "font": "Lato", "fontSize": 18.5, "fontWeight": "bold", "lineHeight": 23.5, "color": "#000"},
  "layer": [
    {"data": {"name": "n2"}, "mark": {"type": "rule", "color": "#555", "strokeWidth": 0.9, "strokeCap": "square"},
     "encoding": {
       "x": {"field": "xl", "type": "quantitative", "scale": {"domain": [-3.27, 100.18], "nice": false, "zero": false}, "axis": null},
       "x2": {"field": "xr"},
       "y": {"field": "h", "type": "quantitative", "scale": {"domain": [0, 1], "range": [242.1, 9.4], "nice": false, "zero": false},
             "axis": {"values": [0, 0.2, 0.4, 0.6, 0.8, 1], "format": ".1f", "title": null}}}},
    {"data": {"name": "n2"}, "mark": {"type": "rule", "color": "#555", "strokeWidth": 0.9, "strokeCap": "square"},
     "encoding": {"x": {"field": "xl", "type": "quantitative"}, "y": {"field": "hl", "type": "quantitative"}, "y2": {"field": "h"}}},
    {"data": {"name": "n2"}, "mark": {"type": "rule", "color": "#555", "strokeWidth": 0.9, "strokeCap": "square"},
     "encoding": {"x": {"field": "xr", "type": "quantitative"}, "y": {"field": "hr", "type": "quantitative"}, "y2": {"field": "h"}}},
    {"data": {"name": "l2"}, "mark": {"type": "point", "shape": "circle", "size": 9, "filled": false, "color": "#333", "strokeWidth": 0.6, "opacity": 1},
     "encoding": {"x": {"field": "i", "type": "quantitative"}, "y": {"datum": 0}}},
    {"data": {"name": "l2"}, "mark": {"type": "text", "angle": 270, "align": "right", "baseline": "middle", "dx": -3.5, "fontSize": 5.5},
     "encoding": {"x": {"field": "i", "type": "quantitative"}, "y": {"datum": 0}, "text": {"field": "lab"},
                  "color": {"field": "g", "type": "nominal", "scale": {"domain": ["b", "r", "k"], "range": ["#0000FF", "#FF0000", "#000000"]}, "legend": null}}}
  ]
},
{
  "width": 371, "height": 207,
  "title": {"text": ["Tracking groups in", "CpG island shore", "clustering"], "orient": "top", "anchor": "start", "frame": "group", "align": "left", "baseline": "top", "offset": 0, "dx": -199, "dy": 172, "font": "Lato", "fontSize": 18.5, "fontWeight": "bold", "lineHeight": 23.5, "color": "#000"},
  "layer": [
    {"data": {"name": "n3"}, "mark": {"type": "rule", "color": "#555", "strokeWidth": 0.9, "strokeCap": "square"},
     "encoding": {
       "x": {"field": "xl", "type": "quantitative", "scale": {"domain": [-3.18, 98.1], "nice": false, "zero": false}, "axis": null},
       "x2": {"field": "xr"},
       "y": {"field": "h", "type": "quantitative", "scale": {"domain": [0, 0.8], "nice": false, "zero": false},
             "axis": {"values": [0, 0.2, 0.4, 0.6, 0.8], "format": ".1f", "title": null}}}},
    {"data": {"name": "n3"}, "mark": {"type": "rule", "color": "#555", "strokeWidth": 0.9, "strokeCap": "square"},
     "encoding": {"x": {"field": "xl", "type": "quantitative"}, "y": {"field": "hl", "type": "quantitative"}, "y2": {"field": "h"}}},
    {"data": {"name": "n3"}, "mark": {"type": "rule", "color": "#555", "strokeWidth": 0.9, "strokeCap": "square"},
     "encoding": {"x": {"field": "xr", "type": "quantitative"}, "y": {"field": "hr", "type": "quantitative"}, "y2": {"field": "h"}}},
    {"data": {"name": "l3"}, "mark": {"type": "point", "shape": "circle", "size": 9, "filled": false, "color": "#333", "strokeWidth": 0.6, "opacity": 1},
     "encoding": {"x": {"field": "i", "type": "quantitative"}, "y": {"datum": 0}}},
    {"data": {"name": "l3"}, "mark": {"type": "text", "angle": 270, "align": "right", "baseline": "middle", "dx": -3.5, "fontSize": 5.5},
     "encoding": {"x": {"field": "i", "type": "quantitative"}, "y": {"datum": 0}, "text": {"field": "lab"},
                  "color": {"field": "g", "type": "nominal", "scale": {"domain": ["b", "r", "k"], "range": ["#0000FF", "#FF0000", "#000000"]}, "legend": null}}}
  ]
}
]
}
